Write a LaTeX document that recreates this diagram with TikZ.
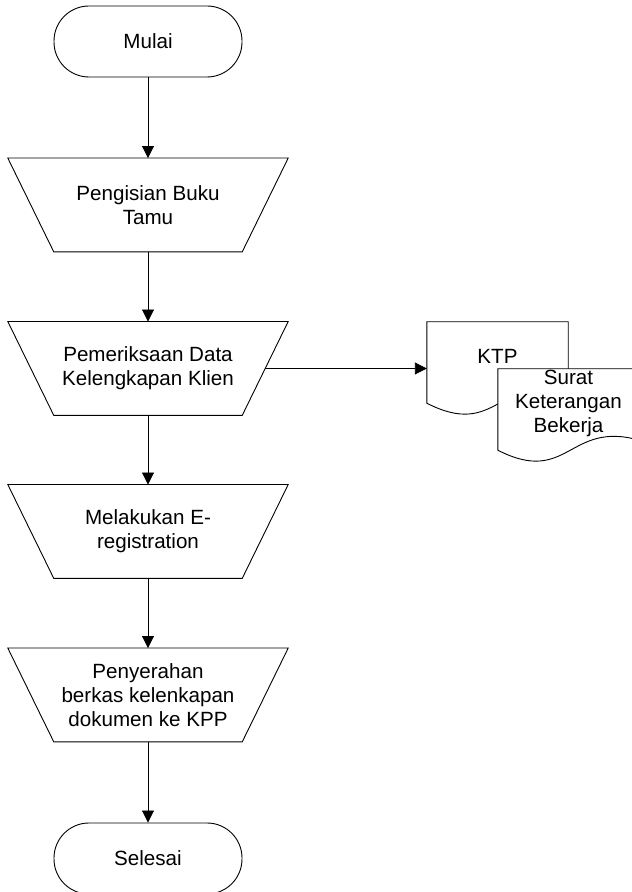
\documentclass[tikz,border=0pt]{standalone}
\usepackage{fontspec}
\setmainfont{Liberation Sans}
\usetikzlibrary{arrows.meta}
\begin{document}
\begin{tikzpicture}[x=1pt,y=1pt,
  every node/.style={font=\fontsize{20.6}{23.8}\selectfont, align=center, inner sep=0pt},
  termbox/.style={draw, line width=0.9pt, rectangle, rounded corners=35pt, minimum width=188pt, minimum height=71pt},
  trapbox/.style={draw=none, rectangle, minimum width=280pt, minimum height=93.5pt},
  docbox/.style={draw=none, rectangle, minimum width=141pt, minimum height=93pt},
  outline/.style={draw, line width=0.9pt},
  arr/.style={draw, line width=0.9pt, -{Triangle[length=12pt,width=12pt]}}
]
\useasboundingbox (0,0) rectangle (632,892);

% terminals
\node[termbox] (mulai) at (148,850.5) {Mulai};
\node[termbox] (selesai) at (148,33.5) {Selesai};

% manual operation boxes
\node[trapbox] (t1) at (148,687) {Pengisian Buku\\Tamu};
\node[trapbox] (t2) at (148,523.5) {Pemeriksaan Data\\Kelengkapan Klien};
\node[trapbox] (t3) at (148,360.5) {Melakukan E-\\registration};
\node[trapbox] (t4) at (148,197) {Penyerahan\\berkas kelenkapan\\dokumen ke KPP};

\foreach \n in {t1,t2,t3,t4}{
  \draw[outline] (\n.north west) -- (\n.north east) -- ([xshift=-46pt]\n.south east)
     -- ([xshift=46pt]\n.south west) -- cycle;
}

% documents
\node[docbox] (ktp) at (497.5,523.5) {};
\node[docbox] (surat) at (568.5,476.5) {};

\foreach \n in {ktp,surat}{
  \draw[outline, fill=white] (\n.north west) -- (\n.north east) -- ([yshift=22pt]\n.south east)
     .. controls ([xshift=-70.5pt,yshift=42pt]\n.south east) and ([xshift=70.5pt,yshift=-24pt]\n.south west)
     .. ([yshift=12pt]\n.south west) -- cycle;
}
\node (ktptext) at ([yshift=12pt]ktp.center) {KTP};
\node (surattext) at ([yshift=12pt]surat.center) {Surat\\Keterangan\\Bekerja};

% connectors
\draw[arr] (mulai.south) -- (t1.north);
\draw[arr] (t1.south) -- (t2.north);
\draw[arr] (t2.south) -- (t3.north);
\draw[arr] (t3.south) -- (t4.north);
\draw[arr] (t4.south) -- (selesai.north);
\draw[arr] ([xshift=-23pt]t2.east) -- (ktp.west);
\end{tikzpicture}
\end{document}
